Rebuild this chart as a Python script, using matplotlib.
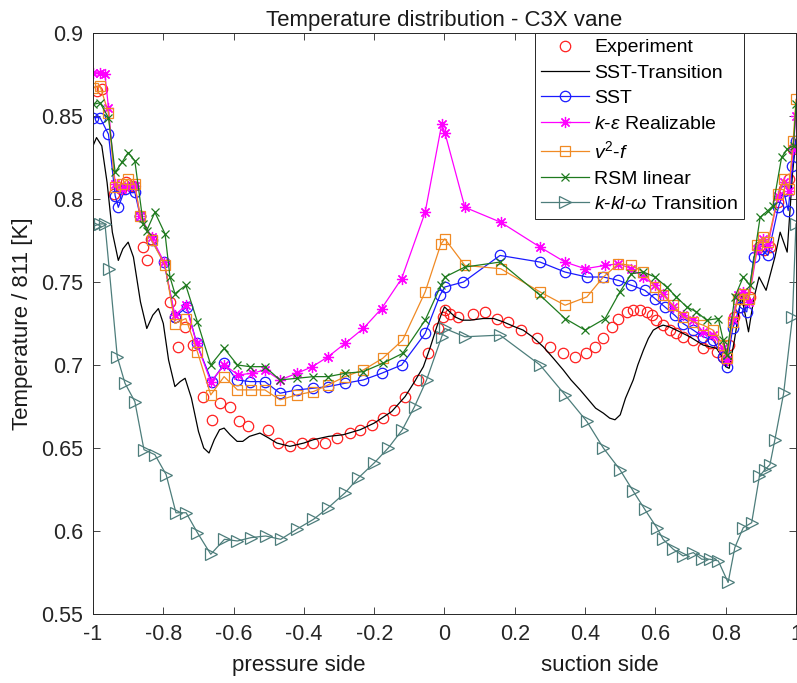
import matplotlib
matplotlib.use('Agg')
import matplotlib.pyplot as plt
from matplotlib.ticker import FormatStrFormatter
from matplotlib.transforms import blended_transform_factory

plt.rcParams['font.family'] = ['Liberation Sans', 'DejaVu Sans']
plt.rcParams['mathtext.fontset'] = 'custom'
plt.rcParams['mathtext.rm'] = 'Liberation Sans'
plt.rcParams['mathtext.it'] = 'Liberation Sans:italic'
plt.rcParams['axes.unicode_minus'] = False

# experiment (markers only)
exp_x = [-0.99, -0.975, -0.94, -0.92, -0.905, -0.885, -0.866, -0.857, -0.847, -0.835,
         -0.781, -0.767, -0.757, -0.738, -0.715, -0.686, -0.662, -0.639, -0.610, -0.585,
         -0.558, -0.501, -0.473, -0.440, -0.406, -0.373, -0.340, -0.307, -0.269, -0.240,
         -0.205, -0.175, -0.145, -0.112, -0.075, -0.046, -0.018, -0.003, 0.001, 0.016,
         0.039, 0.082, 0.115, 0.148, 0.181, 0.219, 0.262, 0.300, 0.338, 0.371,
         0.403, 0.428, 0.452, 0.476, 0.495, 0.518, 0.537, 0.556, 0.575, 0.589,
         0.603, 0.622, 0.641, 0.660, 0.679, 0.708, 0.736, 0.755, 0.775, 0.793,
         0.800, 0.810, 0.825, 0.840, 0.855, 0.870, 0.895, 0.910, 0.925, 0.950,
         0.965, 0.980, 0.992]
exp_y = [0.865, 0.866, 0.803, 0.806, 0.810, 0.808, 0.790, 0.771, 0.763, 0.776,
         0.738, 0.729, 0.711, 0.723, 0.712, 0.681, 0.667, 0.677, 0.675, 0.666,
         0.663, 0.661, 0.653, 0.651, 0.653, 0.653, 0.653, 0.656, 0.659, 0.661,
         0.664, 0.668, 0.673, 0.681, 0.691, 0.707, 0.722, 0.729, 0.733, 0.731,
         0.729, 0.731, 0.732, 0.728, 0.726, 0.721, 0.716, 0.711, 0.707, 0.705,
         0.707, 0.711, 0.716, 0.723, 0.728, 0.732, 0.733, 0.733, 0.732, 0.730,
         0.727, 0.724, 0.721, 0.719, 0.717, 0.715, 0.710, 0.713, 0.708, 0.705,
         0.703, 0.712, 0.729, 0.735, 0.739, 0.741, 0.771, 0.769, 0.771, 0.798,
         0.806, 0.812, 0.830]

# SST-Transition (plain line)
sstt_x = [-1.0, -0.99, -0.975, -0.96, -0.945, -0.928, -0.915, -0.9, -0.885, -0.865,
          -0.847, -0.83, -0.814, -0.8, -0.785, -0.767, -0.752, -0.738, -0.72, -0.7,
          -0.685, -0.67, -0.655, -0.64, -0.627, -0.61, -0.59, -0.574, -0.555, -0.525,
          -0.5, -0.477, -0.44, -0.4, -0.373, -0.33, -0.288, -0.24, -0.2, -0.15,
          -0.112, -0.085, -0.06, -0.04, -0.022, -0.01, 0.0, 0.015, 0.03, 0.05,
          0.073, 0.11, 0.14, 0.167, 0.2, 0.224, 0.25, 0.281, 0.31, 0.338,
          0.36, 0.386, 0.41, 0.43, 0.452, 0.47, 0.485, 0.5, 0.515, 0.537,
          0.55, 0.566, 0.58, 0.594, 0.61, 0.622, 0.64, 0.66, 0.698, 0.736,
          0.774, 0.79, 0.8, 0.81, 0.825, 0.845, 0.865, 0.88, 0.895, 0.915,
          0.94, 0.955, 0.975, 0.99, 1.0]
sstt_y = [0.832, 0.837, 0.832, 0.810, 0.780, 0.763, 0.770, 0.774, 0.765, 0.738,
          0.722, 0.730, 0.734, 0.725, 0.703, 0.687, 0.690, 0.692, 0.680, 0.660,
          0.650, 0.647, 0.655, 0.661, 0.662, 0.658, 0.654, 0.654, 0.657, 0.659,
          0.656, 0.653, 0.651, 0.653, 0.655, 0.657, 0.658, 0.661, 0.665, 0.672,
          0.681, 0.690, 0.699, 0.711, 0.723, 0.730, 0.735, 0.732, 0.729, 0.727,
          0.727, 0.728, 0.728, 0.726, 0.723, 0.721, 0.717, 0.711, 0.704, 0.697,
          0.691, 0.685, 0.679, 0.674, 0.671, 0.668, 0.667, 0.670, 0.680, 0.691,
          0.700, 0.709, 0.716, 0.721, 0.723, 0.724, 0.723, 0.721, 0.717, 0.712,
          0.710, 0.705, 0.699, 0.698, 0.715, 0.742, 0.720, 0.740, 0.753, 0.745,
          0.765, 0.780, 0.768, 0.815, 0.836]

# SST
sst_x = [-0.999, -0.98, -0.956, -0.937, -0.928, -0.909, -0.89, -0.881, -0.866, -0.833,
         -0.798, -0.767, -0.733, -0.705, -0.662, -0.626, -0.591, -0.553, -0.511, -0.468,
         -0.42, -0.373, -0.331, -0.283, -0.231, -0.179, -0.122, -0.055, -0.013, 0.001,
         0.054, 0.158, 0.272, 0.343, 0.405, 0.452, 0.495, 0.532, 0.57, 0.599,
         0.627, 0.655, 0.679, 0.708, 0.736, 0.764, 0.793, 0.803, 0.82, 0.84,
         0.86, 0.88, 0.9, 0.92, 0.95, 0.965, 0.978, 0.99, 1.0]
sst_y = [0.849, 0.849, 0.839, 0.802, 0.795, 0.806, 0.807, 0.804, 0.790, 0.775,
         0.762, 0.729, 0.735, 0.713, 0.690, 0.701, 0.691, 0.690, 0.690, 0.683,
         0.685, 0.686, 0.687, 0.689, 0.691, 0.695, 0.700, 0.719, 0.742, 0.747,
         0.750, 0.766, 0.762, 0.756, 0.753, 0.753, 0.751, 0.748, 0.745, 0.740,
         0.735, 0.730, 0.725, 0.721, 0.717, 0.715, 0.705, 0.699, 0.722, 0.735,
         0.732, 0.765, 0.770, 0.766, 0.795, 0.805, 0.793, 0.820, 0.835]

# k-epsilon realizable
ke_x = [-0.999, -0.98, -0.966, -0.956, -0.937, -0.918, -0.9, -0.881, -0.866, -0.833,
        -0.798, -0.767, -0.736, -0.705, -0.665, -0.626, -0.587, -0.549, -0.511, -0.468,
        -0.42, -0.376, -0.331, -0.283, -0.231, -0.179, -0.122, -0.055, -0.008, 0.001,
        0.058, 0.16, 0.272, 0.343, 0.4, 0.457, 0.495, 0.532, 0.566, 0.599,
        0.622, 0.651, 0.679, 0.708, 0.736, 0.764, 0.793, 0.803, 0.82, 0.835,
        0.85, 0.865, 0.89, 0.905, 0.92, 0.95, 0.965, 0.98, 0.992, 1.0]
ke_y = [0.876, 0.876, 0.875, 0.855, 0.809, 0.806, 0.808, 0.808, 0.790, 0.777,
        0.762, 0.730, 0.736, 0.713, 0.690, 0.700, 0.694, 0.695, 0.697, 0.691,
        0.695, 0.699, 0.705, 0.713, 0.722, 0.734, 0.752, 0.792, 0.845, 0.840,
        0.795, 0.786, 0.771, 0.762, 0.758, 0.760, 0.761, 0.758, 0.753, 0.748,
        0.743, 0.735, 0.730, 0.727, 0.720, 0.718, 0.710, 0.703, 0.728, 0.742,
        0.744, 0.738, 0.770, 0.776, 0.772, 0.802, 0.810, 0.805, 0.830, 0.850]

# v2-f
v2f_x = [-0.999, -0.98, -0.956, -0.937, -0.918, -0.9, -0.881, -0.866, -0.833, -0.795,
         -0.767, -0.736, -0.703, -0.665, -0.627, -0.589, -0.551, -0.511, -0.468, -0.42,
         -0.373, -0.331, -0.283, -0.231, -0.176, -0.119, -0.055, -0.01, 0.001, 0.058,
         0.16, 0.272, 0.343, 0.405, 0.452, 0.495, 0.532, 0.566, 0.599, 0.622,
         0.651, 0.679, 0.708, 0.736, 0.764, 0.793, 0.803, 0.82, 0.835, 0.85,
         0.865, 0.89, 0.905, 0.92, 0.95, 0.965, 0.98, 0.992, 1.0]
v2f_y = [0.867, 0.868, 0.852, 0.807, 0.809, 0.812, 0.809, 0.790, 0.775, 0.760,
         0.725, 0.728, 0.708, 0.682, 0.693, 0.685, 0.685, 0.685, 0.679, 0.682,
         0.684, 0.688, 0.693, 0.697, 0.704, 0.715, 0.744, 0.773, 0.776, 0.760,
         0.758, 0.744, 0.736, 0.741, 0.753, 0.761, 0.760, 0.756, 0.747, 0.742,
         0.736, 0.729, 0.726, 0.724, 0.721, 0.712, 0.704, 0.726, 0.740, 0.743,
         0.740, 0.772, 0.777, 0.774, 0.803, 0.812, 0.806, 0.835, 0.860]

# RSM linear
rsm_x = [-0.999, -0.98, -0.956, -0.937, -0.918, -0.9, -0.881, -0.857, -0.847, -0.824,
         -0.795, -0.781, -0.767, -0.736, -0.703, -0.665, -0.627, -0.589, -0.553, -0.511,
         -0.468, -0.42, -0.373, -0.331, -0.283, -0.231, -0.176, -0.119, -0.055, -0.01,
         0.001, 0.058, 0.158, 0.272, 0.343, 0.4, 0.457, 0.499, 0.532, 0.566,
         0.599, 0.632, 0.66, 0.689, 0.717, 0.746, 0.779, 0.793, 0.803, 0.826,
         0.85, 0.869, 0.898, 0.92, 0.935, 0.959, 0.975, 0.993, 1.0]
rsm_y = [0.857, 0.858, 0.849, 0.816, 0.822, 0.828, 0.823, 0.785, 0.781, 0.792,
         0.779, 0.753, 0.743, 0.748, 0.726, 0.700, 0.710, 0.700, 0.699, 0.699,
         0.691, 0.692, 0.693, 0.693, 0.695, 0.696, 0.701, 0.707, 0.727, 0.748,
         0.753, 0.759, 0.762, 0.742, 0.728, 0.721, 0.728, 0.744, 0.755, 0.756,
         0.753, 0.747, 0.741, 0.735, 0.732, 0.727, 0.728, 0.715, 0.706, 0.741,
         0.753, 0.748, 0.789, 0.793, 0.796, 0.825, 0.830, 0.832, 0.857]

# k-kl-omega transition
kkl_x = [-0.994, -0.98, -0.966, -0.954, -0.931, -0.909, -0.881, -0.855, -0.824, -0.792,
         -0.764, -0.735, -0.703, -0.665, -0.626, -0.589, -0.551, -0.509, -0.466, -0.421,
         -0.373, -0.331, -0.283, -0.245, -0.2, -0.16, -0.12, -0.085, -0.051, -0.008,
         0.001, 0.058, 0.158, 0.272, 0.343, 0.405, 0.452, 0.499, 0.537, 0.57,
         0.604, 0.622, 0.651, 0.679, 0.708, 0.732, 0.755, 0.779, 0.807, 0.826,
         0.85, 0.874, 0.896, 0.912, 0.926, 0.94, 0.965, 0.99, 1.0]
kkl_y = [0.784, 0.785, 0.785, 0.758, 0.705, 0.689, 0.678, 0.649, 0.646, 0.634,
         0.611, 0.611, 0.599, 0.586, 0.595, 0.594, 0.596, 0.597, 0.595, 0.601,
         0.607, 0.614, 0.623, 0.632, 0.641, 0.650, 0.661, 0.675, 0.691, 0.717,
         0.722, 0.717, 0.718, 0.700, 0.682, 0.666, 0.650, 0.637, 0.624, 0.613,
         0.602, 0.595, 0.589, 0.585, 0.587, 0.583, 0.583, 0.582, 0.569, 0.590,
         0.602, 0.605, 0.633, 0.637, 0.640, 0.655, 0.683, 0.729, 0.785]

x_ticks = [-1, -0.8, -0.6, -0.4, -0.2, 0, 0.2, 0.4, 0.6, 0.8, 1]
y_ticks = [0.55, 0.6, 0.65, 0.7, 0.75, 0.8, 0.85, 0.9]

fig = plt.figure(figsize=(7.97, 6.83), dpi=100)
ax = fig.add_axes([0.1167, 0.101, 0.882, 0.8507])

lw = 0.9
asterisk = (8, 2, 0)
ax.plot(exp_x, exp_y, 'o', color='#ff2020', mfc='none', ms=7.5, mew=0.9, label='Experiment')
ax.plot(sstt_x, sstt_y, '-', color='black', lw=lw, label='SST-Transition')
ax.plot(sst_x, sst_y, '-o', color='#1a1aff', mfc='none', ms=7.5, mew=0.9, lw=lw, label='SST')
ax.plot(ke_x, ke_y, '-', marker=asterisk, color='#ff00ff', ms=8, mew=0.9, lw=lw,
        label=r'$k$-$\epsilon$ Realizable')
ax.plot(v2f_x, v2f_y, '-s', color='#f08a24', mfc='none', ms=6.5, mew=0.9, lw=lw,
        label=r'$v^2$-$f$')
ax.plot(rsm_x, rsm_y, '-x', color='#1e7a1e', ms=6, mew=0.9, lw=lw, label='RSM linear')
ax.plot(kkl_x, kkl_y, '->', color='#4d7d7b', mfc='none', ms=8, mew=0.9, lw=lw,
        label=r'$k$-$kl$-$\omega$ Transition')

ax.set_xlim(-1, 1)
ax.set_ylim(0.55, 0.9)
ax.set_xticks(x_ticks)
ax.set_yticks(y_ticks)
ax.xaxis.set_major_formatter(FormatStrFormatter('%g'))
ax.yaxis.set_major_formatter(FormatStrFormatter('%g'))
ax.tick_params(direction='in', top=True, right=True, length=5, width=0.6,
               labelsize=15.5, colors='#262626', pad=7)
for s in ax.spines.values():
    s.set_color('#262626')
    s.set_linewidth(0.7)

ax.set_title('Temperature distribution - C3X vane', fontsize=16, color='#1a1a1a', pad=5)
ax.set_ylabel('Temperature / 811 [K]', fontsize=16, color='#1a1a1a', labelpad=6)

tr = blended_transform_factory(ax.transData, ax.transAxes)
ax.text(-0.414, -0.088, 'pressure side', transform=tr, ha='center', va='center',
        fontsize=16, color='#1a1a1a')
ax.text(0.442, -0.088, 'suction side', transform=tr, ha='center', va='center',
        fontsize=16, color='#1a1a1a')

leg = ax.legend(loc='upper left', bbox_to_anchor=(0.629, 1.0), borderaxespad=0,
                fontsize=14, fancybox=False, framealpha=1, edgecolor='#262626',
                handlelength=2.45, handletextpad=0.3, labelspacing=0.4, borderpad=0.3)
leg.get_frame().set_linewidth(0.7)

fig.savefig('out.png', dpi=100)
